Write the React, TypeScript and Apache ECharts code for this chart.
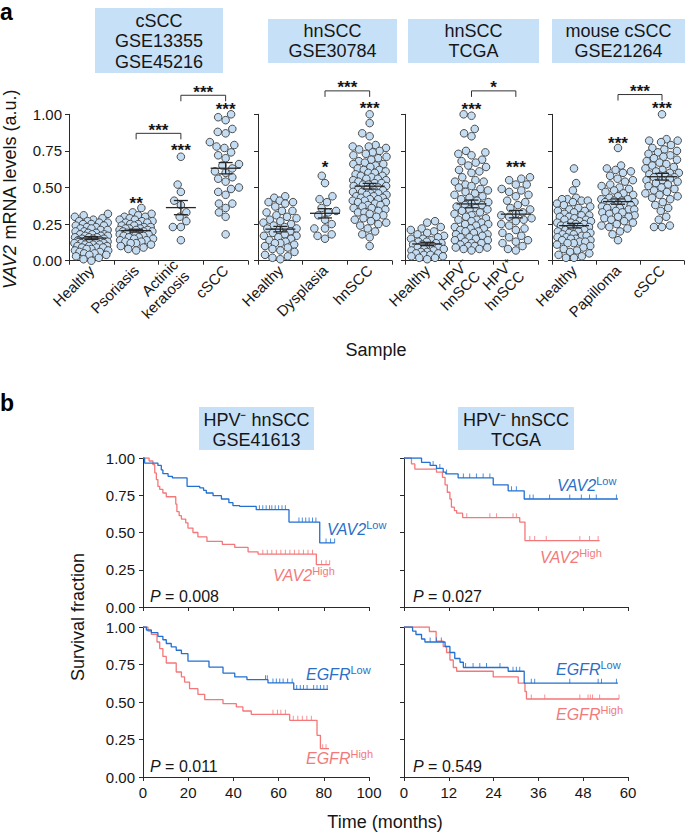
import React, { useEffect, useRef } from 'react';
import * as echarts from 'echarts';

// ---------------- Panel a: categories ----------------
const catsCSCC = ['Healthy', 'Psoriasis', 'Actinic\nkeratosis', 'cSCC'];
const catsHN = ['Healthy', 'Dysplasia', 'hnSCC'];
const catsTCGA = ['Healthy', 'HPV⁻\nhnSCC', 'HPV⁺\nhnSCC'];
const catsMouse = ['Healthy', 'Papilloma', 'cSCC'];

// ---------------- Panel a: values (VAV2 mRNA, a.u.) ----------------
const cSCCHealthy = [0.32, 0.31, 0.30, 0.29, 0.28, 0.27, 0.27, 0.26, 0.26, 0.25, 0.25, 0.24, 0.24, 0.23, 0.23, 0.22, 0.22, 0.21, 0.21, 0.20, 0.20, 0.19, 0.19, 0.18, 0.18, 0.18, 0.17, 0.17, 0.17, 0.16, 0.16, 0.16, 0.15, 0.15, 0.15, 0.14, 0.14, 0.14, 0.13, 0.13, 0.13, 0.12, 0.12, 0.12, 0.11, 0.11, 0.11, 0.10, 0.10, 0.10, 0.09, 0.09, 0.09, 0.08, 0.08, 0.07, 0.07, 0.06, 0.06, 0.05, 0.05, 0.04, 0.04, 0.03, 0.02, 0.01, 0.00];
const cSCCPsoriasis = [0.36, 0.33, 0.32, 0.31, 0.30, 0.30, 0.29, 0.28, 0.28, 0.27, 0.27, 0.26, 0.26, 0.25, 0.25, 0.24, 0.24, 0.23, 0.23, 0.22, 0.22, 0.22, 0.21, 0.21, 0.21, 0.20, 0.20, 0.20, 0.19, 0.19, 0.19, 0.18, 0.18, 0.18, 0.17, 0.17, 0.16, 0.16, 0.15, 0.15, 0.14, 0.14, 0.13, 0.13, 0.12, 0.12, 0.11, 0.10, 0.09, 0.08, 0.07];
const cSCCActinic = [0.71, 0.52, 0.47, 0.41, 0.38, 0.33, 0.30, 0.27, 0.23, 0.23, 0.14];
const cSCCTumour = [1.00, 0.98, 0.96, 0.90, 0.88, 0.87, 0.81, 0.79, 0.78, 0.77, 0.74, 0.72, 0.70, 0.66, 0.65, 0.63, 0.61, 0.60, 0.57, 0.56, 0.54, 0.50, 0.49, 0.47, 0.45, 0.39, 0.39, 0.36, 0.33, 0.30, 0.18];

const hnHealthy = [0.44, 0.43, 0.41, 0.40, 0.40, 0.39, 0.37, 0.34, 0.34, 0.33, 0.31, 0.30, 0.29, 0.28, 0.27, 0.26, 0.25, 0.24, 0.23, 0.22, 0.22, 0.21, 0.20, 0.19, 0.18, 0.17, 0.17, 0.16, 0.15, 0.14, 0.13, 0.12, 0.12, 0.11, 0.10, 0.09, 0.08, 0.07, 0.06, 0.04, 0.03, 0.02, 0.01];
const hnDysplasia = [0.58, 0.53, 0.44, 0.42, 0.40, 0.36, 0.34, 0.33, 0.31, 0.28, 0.25, 0.22, 0.22, 0.18, 0.17, 0.15];
const hnTumour = [1.00, 0.94, 0.87, 0.85, 0.79, 0.78, 0.78, 0.77, 0.76, 0.75, 0.74, 0.73, 0.72, 0.71, 0.70, 0.69, 0.68, 0.67, 0.66, 0.66, 0.65, 0.64, 0.63, 0.62, 0.62, 0.61, 0.60, 0.60, 0.59, 0.58, 0.58, 0.57, 0.56, 0.56, 0.55, 0.55, 0.54, 0.53, 0.53, 0.52, 0.52, 0.51, 0.51, 0.50, 0.50, 0.49, 0.49, 0.48, 0.48, 0.47, 0.47, 0.46, 0.46, 0.45, 0.45, 0.44, 0.44, 0.43, 0.43, 0.42, 0.42, 0.41, 0.41, 0.40, 0.40, 0.39, 0.38, 0.38, 0.37, 0.36, 0.36, 0.35, 0.34, 0.33, 0.33, 0.32, 0.31, 0.30, 0.29, 0.28, 0.27, 0.26, 0.25, 0.24, 0.22, 0.20, 0.18, 0.16, 0.10];

const tcgaHealthy = [0.27, 0.26, 0.23, 0.22, 0.21, 0.20, 0.19, 0.18, 0.17, 0.16, 0.15, 0.15, 0.14, 0.13, 0.13, 0.12, 0.12, 0.11, 0.11, 0.10, 0.10, 0.09, 0.09, 0.08, 0.08, 0.07, 0.07, 0.06, 0.06, 0.05, 0.05, 0.04, 0.04, 0.03, 0.03, 0.02, 0.02, 0.01];
const tcgaHPVneg = [1.00, 0.99, 0.90, 0.87, 0.85, 0.75, 0.74, 0.73, 0.72, 0.69, 0.68, 0.67, 0.65, 0.64, 0.62, 0.61, 0.60, 0.57, 0.55, 0.54, 0.54, 0.52, 0.51, 0.50, 0.49, 0.48, 0.47, 0.46, 0.45, 0.44, 0.43, 0.42, 0.41, 0.40, 0.39, 0.38, 0.38, 0.37, 0.36, 0.35, 0.35, 0.34, 0.33, 0.32, 0.31, 0.30, 0.29, 0.28, 0.28, 0.27, 0.26, 0.25, 0.25, 0.24, 0.23, 0.22, 0.22, 0.21, 0.20, 0.20, 0.19, 0.18, 0.18, 0.17, 0.16, 0.16, 0.15, 0.14, 0.14, 0.13, 0.12, 0.12, 0.11, 0.10, 0.10, 0.09, 0.09, 0.08, 0.08, 0.07];
const tcgaHPVpos = [0.57, 0.56, 0.55, 0.52, 0.52, 0.49, 0.48, 0.47, 0.45, 0.44, 0.41, 0.40, 0.38, 0.36, 0.35, 0.33, 0.32, 0.31, 0.30, 0.29, 0.28, 0.27, 0.25, 0.24, 0.22, 0.21, 0.19, 0.17, 0.16, 0.14, 0.13, 0.12, 0.10, 0.08, 0.07];

const mouseHealthy = [0.63, 0.53, 0.48, 0.43, 0.42, 0.42, 0.41, 0.41, 0.40, 0.39, 0.38, 0.37, 0.36, 0.35, 0.34, 0.34, 0.33, 0.32, 0.31, 0.31, 0.30, 0.30, 0.29, 0.28, 0.28, 0.27, 0.27, 0.26, 0.26, 0.25, 0.25, 0.24, 0.24, 0.23, 0.23, 0.22, 0.22, 0.21, 0.21, 0.20, 0.20, 0.19, 0.19, 0.18, 0.18, 0.17, 0.17, 0.16, 0.16, 0.15, 0.15, 0.14, 0.14, 0.13, 0.13, 0.12, 0.12, 0.11, 0.10, 0.09, 0.08, 0.07, 0.06, 0.05, 0.04, 0.03, 0.02, 0.02];
const mousePapilloma = [0.77, 0.65, 0.63, 0.62, 0.61, 0.60, 0.58, 0.56, 0.55, 0.54, 0.52, 0.51, 0.50, 0.49, 0.48, 0.47, 0.46, 0.45, 0.44, 0.43, 0.42, 0.42, 0.41, 0.41, 0.40, 0.40, 0.39, 0.39, 0.38, 0.38, 0.37, 0.37, 0.36, 0.36, 0.35, 0.35, 0.34, 0.33, 0.33, 0.32, 0.31, 0.30, 0.30, 0.29, 0.28, 0.27, 0.26, 0.25, 0.24, 0.23, 0.22, 0.20, 0.18, 0.14];
const mouseTumour = [1.00, 0.83, 0.82, 0.82, 0.81, 0.79, 0.77, 0.76, 0.75, 0.74, 0.73, 0.72, 0.71, 0.70, 0.69, 0.68, 0.67, 0.66, 0.65, 0.64, 0.63, 0.62, 0.61, 0.60, 0.60, 0.59, 0.58, 0.58, 0.57, 0.57, 0.56, 0.55, 0.55, 0.54, 0.53, 0.52, 0.51, 0.50, 0.49, 0.48, 0.47, 0.46, 0.45, 0.44, 0.43, 0.42, 0.40, 0.38, 0.36, 0.34, 0.30, 0.28, 0.24, 0.23, 0.23];

// ---------------- Panel a: significance annotations ----------------
const starCatsCSCC = [1, 2, 3];
const starLevelsCSCC = [0.415, 0.78, 1.06];
const starTextCSCC = ['**', '***', '***'];
const brFromCSCC = [1, 2];
const brToCSCC = [2, 3];
const brLevelCSCC = [0.87, 1.13];
const brTextCSCC = ['***', '***'];

const starCatsHN = [1, 2];
const starLevelsHN = [0.665, 1.065];
const starTextHN = ['*', '***'];
const brFromHN = [1];
const brToHN = [2];
const brLevelHN = [1.16];
const brTextHN = ['***'];

const starCatsTCGA = [1, 2];
const starLevelsTCGA = [1.06, 0.665];
const starTextTCGA = ['***', '***'];
const brFromTCGA = [1];
const brToTCGA = [2];
const brLevelTCGA = [1.16];
const brTextTCGA = ['*'];

const starCatsMouse = [1, 2];
const starLevelsMouse = [0.83, 1.065];
const starTextMouse = ['***', '***'];
const brFromMouse = [1];
const brToMouse = [2];
const brLevelMouse = [1.135];
const brTextMouse = ['***'];

// ---------------- Panel b: Kaplan–Meier curves (drop times, survival after drop) ----------------
const vavGseLowT = [0.7, 6.6, 8.1, 8.8, 11.1, 13.0, 19.5, 25.1, 26.8, 28.0, 31.0, 34.7, 38.0, 39.8, 42.8, 50.1, 64.6, 78.2];
const vavGseLowS = [0.966, 0.95, 0.92, 0.895, 0.877, 0.866, 0.81, 0.80, 0.783, 0.765, 0.747, 0.725, 0.70, 0.68, 0.675, 0.653, 0.57, 0.43];
const vavGseLowEnd = 84.8;
const vavGseLowCens = [51.5, 53, 54.5, 56, 57, 58.5, 60, 61.5, 63, 69, 70.5, 72, 73.5, 75, 76.5, 81, 83, 84.8];

const vavGseHighT = [2.7, 4.4, 5.2, 5.9, 6.6, 7.4, 8.8, 10.3, 14.5, 15.0, 16.0, 17.0, 18.9, 19.9, 22.1, 24.3, 28.3, 35.1, 40.6, 46.5, 50.9, 76.7];
const vavGseHighS = [0.98, 0.955, 0.90, 0.855, 0.81, 0.79, 0.765, 0.74, 0.69, 0.64, 0.613, 0.59, 0.565, 0.53, 0.50, 0.47, 0.44, 0.42, 0.40, 0.37, 0.355, 0.284];
const vavGseHighEnd = 82.6;
const vavGseHighCens = [53, 55, 57, 59, 61, 63, 65, 67, 69, 71, 73, 75, 79, 81, 82.6];

const vavTcgaLowT = [4.7, 7.0, 8.7, 10.5, 11.2, 14.5, 23.9, 27.9, 32.2];
const vavTcgaLowS = [0.97, 0.95, 0.93, 0.905, 0.893, 0.866, 0.82, 0.78, 0.725];
const vavTcgaLowEnd = 57.3;
const vavTcgaLowCens = [7.8, 9.6, 11.4, 15.9, 17.6, 19.4, 21.2, 23.0, 28.8, 30.1, 33.7, 34.6, 39.0, 44.4, 47.5, 49.7, 51.5, 56.9];

const vavTcgaHighT = [2.0, 2.9, 8.7, 10.3, 11.0, 11.6, 12.3, 12.7, 13.5, 14.1, 15.7, 31.0, 32.4];
const vavTcgaHighS = [0.96, 0.926, 0.905, 0.87, 0.82, 0.77, 0.725, 0.67, 0.647, 0.63, 0.60, 0.57, 0.446];
const vavTcgaHighEnd = 52.4;
const vavTcgaHighCens = [16.8, 23.0, 24.8, 29.2, 30.1, 33.7, 35.0, 38.1, 47.1, 49.7, 52.0];

const egfrGseLowT = [1.5, 3.7, 6.6, 8.8, 10.3, 12.5, 14.7, 17.0, 19.9, 29.2, 35.4, 40.6, 46.0, 55.3, 66.7];
const egfrGseLowS = [0.98, 0.962, 0.938, 0.915, 0.89, 0.867, 0.845, 0.822, 0.773, 0.733, 0.693, 0.667, 0.649, 0.627, 0.584];
const egfrGseLowEnd = 81.9;
const egfrGseLowCens = [54.2, 55, 57.5, 59, 60.5, 62, 64, 66, 68, 69.6, 71, 72.6, 75.5, 77, 78.5, 80, 81.5];

const egfrGseHighT = [2.2, 3.7, 6.2, 7.4, 8.8, 10.3, 14.7, 17.0, 18.4, 20.6, 24.3, 27.3, 35.4, 41.3, 44.2, 47.9, 64.9, 77.0, 78.5];
const egfrGseHighS = [0.973, 0.951, 0.90, 0.856, 0.804, 0.76, 0.70, 0.667, 0.633, 0.589, 0.551, 0.516, 0.489, 0.467, 0.44, 0.418, 0.378, 0.278, 0.189];
const egfrGseHighEnd = 82.3;
const egfrGseHighCens = [57.5, 59.5, 61, 63, 66.5, 68.5, 70.5, 72.5, 74.5, 79.5, 81];

const egfrTcgaLowT = [2.3, 3.2, 4.7, 5.6, 11.0, 12.3, 13.6, 15.0, 15.9, 27.9, 32.2];
const egfrTcgaLowS = [0.973, 0.95, 0.92, 0.90, 0.87, 0.83, 0.79, 0.765, 0.73, 0.705, 0.626];
const egfrTcgaLowEnd = 57.3;
const egfrTcgaLowCens = [7.0, 8.7, 10.0, 16.5, 18.5, 20.3, 22.1, 25.7, 29.2, 30.1, 31.0, 34.1, 35.0, 44.4, 52.0, 52.9, 56.9];

const egfrTcgaHighT = [6.8, 8.6, 10.5, 11.4, 12.3, 13.2, 14.1, 23.9, 30.6, 32.4, 32.8];
const egfrTcgaHighS = [0.97, 0.906, 0.87, 0.83, 0.78, 0.73, 0.705, 0.667, 0.626, 0.57, 0.52];
const egfrTcgaHighEnd = 57.6;
const egfrTcgaHighCens = [34.1, 37.7, 47.1, 49.3, 49.9, 50.5, 52.4, 57.6];

const yTicks = [0, 0.25, 0.5, 0.75, 1];

// ---------------- styles ----------------
const FONT = '"Liberation Sans", Arial, Helvetica, sans-serif';
const TXT = '#161616';
const AX = '#2a2a2a';
const BOX = '#c6e0f8';
const DOT_FILL = '#c4ddf3';
const DOT_STROKE = '#3c3c3c';
const BLUE = '#2170d2';
const RED = '#f47779';
const BLUE_T = '#2a6fc6';
const RED_T = '#f27a7b';

const A_TOP = 114.3;
const A_H = 146.4;
const gridsA = [
  { left: 69, top: A_TOP, width: 179, height: A_H },
  { left: 258, top: A_TOP, width: 134, height: A_H },
  { left: 405, top: A_TOP, width: 133, height: A_H },
  { left: 552, top: A_TOP, width: 132, height: A_H },
];
const gridsB = [
  { left: 143, top: 458, width: 226, height: 149 },
  { left: 404, top: 458, width: 224, height: 149 },
  { left: 143, top: 627, width: 226, height: 150 },
  { left: 404, top: 627, width: 224, height: 150 },
];

const DOT_D = 8;

function beeswarm(values: number[], pxPerUnit: number, d: number, maxHalf: number): number[] {
  const order = values.map((_, i) => i).sort((a, b) => values[a] - values[b]);
  const placed: { x: number; y: number }[] = [];
  const offs = new Array(values.length).fill(0);
  for (const i of order) {
    const y = values[i] * pxPerUnit;
    let minD = d;
    let found: number | null = null;
    let guard = 0;
    while (found === null && guard < 40) {
      guard++;
      const iv: [number, number][] = [];
      for (const p of placed) {
        const dy = Math.abs(p.y - y);
        if (dy < minD) {
          const w = Math.sqrt(minD * minD - dy * dy);
          iv.push([p.x - w, p.x + w]);
        }
      }
      const cands = [0];
      for (const [a, b] of iv) cands.push(a, b);
      cands.sort((a, b) => Math.abs(a) - Math.abs(b) || a - b);
      for (const c of cands) {
        if (Math.abs(c) > maxHalf + 1e-6) continue;
        let ok = true;
        for (const [a, b] of iv) {
          if (c > a + 1e-6 && c < b - 1e-6) { ok = false; break; }
        }
        if (ok) { found = c; break; }
      }
      minD *= 0.88;
    }
    const f = found === null ? 0 : found;
    offs[i] = f;
    placed.push({ x: f, y });
  }
  return offs;
}

function meanSem(arr: number[]) {
  const n = arr.length;
  const m = arr.reduce((a, b) => a + b, 0) / n;
  const sd = Math.sqrt(arr.reduce((a, b) => a + (b - m) * (b - m), 0) / (n - 1));
  return [m, sd / Math.sqrt(n)];
}

function survAt(T: number[], S: number[], t: number) {
  let s = 1;
  for (let i = 0; i < T.length; i++) if (T[i] <= t) s = S[i];
  return s;
}

function kmPoints(T: number[], S: number[], end: number) {
  const pts: number[][] = [[0, 1]];
  T.forEach((t, i) => pts.push([t, S[i]]));
  pts.push([end, S[S.length - 1]]);
  return pts;
}

function buildOption() {
  const panelsA = [
    { cats: catsCSCC, groups: [cSCCHealthy, cSCCPsoriasis, cSCCActinic, cSCCTumour], sc: starCatsCSCC, sl: starLevelsCSCC, st: starTextCSCC, bf: brFromCSCC, bt: brToCSCC, bl: brLevelCSCC, bx: brTextCSCC },
    { cats: catsHN, groups: [hnHealthy, hnDysplasia, hnTumour], sc: starCatsHN, sl: starLevelsHN, st: starTextHN, bf: brFromHN, bt: brToHN, bl: brLevelHN, bx: brTextHN },
    { cats: catsTCGA, groups: [tcgaHealthy, tcgaHPVneg, tcgaHPVpos], sc: starCatsTCGA, sl: starLevelsTCGA, st: starTextTCGA, bf: brFromTCGA, bt: brToTCGA, bl: brLevelTCGA, bx: brTextTCGA },
    { cats: catsMouse, groups: [mouseHealthy, mousePapilloma, mouseTumour], sc: starCatsMouse, sl: starLevelsMouse, st: starTextMouse, bf: brFromMouse, bt: brToMouse, bl: brLevelMouse, bx: brTextMouse },
  ];

  const grid: any[] = [...gridsA, ...gridsB];
  const xAxis: any[] = [];
  const yAxis: any[] = [];
  const series: any[] = [];

  panelsA.forEach((p, k) => {
    xAxis.push({
      type: 'category', gridIndex: k, data: p.cats, boundaryGap: true,
      axisLine: { lineStyle: { color: AX, width: 1 } },
      axisTick: { show: true, length: 4, lineStyle: { color: AX } },
      axisLabel: { rotate: 45, fontSize: 15, color: TXT, margin: 7, interval: 0, fontFamily: FONT, lineHeight: 16 },
      splitLine: { show: false },
    });
    yAxis.push({
      type: 'value', gridIndex: k, min: 0, max: 1, interval: 0.25,
      axisLine: { show: true, lineStyle: { color: AX, width: 1 } },
      axisTick: { show: true, length: 4, lineStyle: { color: AX } },
      axisLabel: { show: k === 0, fontSize: 15, color: TXT, margin: 7, fontFamily: FONT, formatter: (v: number) => v.toFixed(2) },
      splitLine: { show: false },
    });

    const dots: number[][] = [];
    const means: number[][] = [];
    p.groups.forEach((vals, g) => {
      const offs = beeswarm(vals, A_H, DOT_D, 17);
      vals.forEach((v, i) => dots.push([g, v, offs[i]]));
      const [m, se] = meanSem(vals);
      means.push([g, m, se]);
    });

    series.push({
      type: 'custom', xAxisIndex: k, yAxisIndex: k, data: dots, encode: { x: 0, y: 1 }, z: 2, silent: true,
      renderItem: (_params: any, api: any) => {
        const c = api.coord([api.value(0), api.value(1)]);
        return { type: 'circle', shape: { cx: c[0] + api.value(2), cy: c[1], r: 3.8 }, style: { fill: DOT_FILL, stroke: DOT_STROKE, lineWidth: 0.9 } };
      },
    });
    series.push({
      type: 'custom', xAxisIndex: k, yAxisIndex: k, data: means, encode: { x: 0, y: 1 }, z: 3, silent: true,
      renderItem: (_params: any, api: any) => {
        const c = api.coord([api.value(0), api.value(1)]);
        const hi = api.coord([api.value(0), api.value(1) + api.value(2)]);
        const lo = api.coord([api.value(0), api.value(1) - api.value(2)]);
        const st = { stroke: '#262626', lineWidth: 1.3 };
        return {
          type: 'group', children: [
            { type: 'line', shape: { x1: c[0] - 15, y1: c[1], x2: c[0] + 15, y2: c[1] }, style: st },
            { type: 'line', shape: { x1: c[0], y1: hi[1], x2: c[0], y2: lo[1] }, style: st },
            { type: 'line', shape: { x1: c[0] - 7, y1: hi[1], x2: c[0] + 7, y2: hi[1] }, style: st },
            { type: 'line', shape: { x1: c[0] - 7, y1: lo[1], x2: c[0] + 7, y2: lo[1] }, style: st },
          ],
        };
      },
    });
    const starTexts = p.st;
    series.push({
      type: 'custom', xAxisIndex: k, yAxisIndex: k, data: p.sc.map((c, i) => [c, p.sl[i]]), encode: { x: 0, y: 1 }, z: 4, silent: true,
      renderItem: (params: any, api: any) => {
        const c = api.coord([api.value(0), api.value(1)]);
        const t = starTexts[params.dataIndex];
        return {
          type: 'text', x: c[0], y: c[1] + 4,
          style: { text: t, fontSize: 17, fontWeight: 'bold', fontFamily: FONT, fill: TXT, textAlign: 'center', textVerticalAlign: 'middle', align: 'center', verticalAlign: 'middle' },
        };
      },
    });
    const brTexts = p.bx;
    series.push({
      type: 'custom', xAxisIndex: k, yAxisIndex: k, data: p.bf.map((f, i) => [f, p.bl[i], p.bt[i]]), encode: { x: 0, y: 1 }, z: 4, silent: true,
      renderItem: (params: any, api: any) => {
        const a = api.coord([api.value(0), api.value(1)]);
        const b = api.coord([api.value(2), api.value(1)]);
        const t = brTexts[params.dataIndex];
        return {
          type: 'group', children: [
            { type: 'polyline', shape: { points: [[a[0], a[1] + 6], [a[0], a[1]], [b[0], b[1]], [b[0], b[1] + 6]] }, style: { stroke: '#333', fill: null, lineWidth: 1 } },
            { type: 'text', x: (a[0] + b[0]) / 2, y: a[1] - 3,
              style: { text: t, fontSize: 17, fontWeight: 'bold', fontFamily: FONT, fill: TXT, textAlign: 'center', textVerticalAlign: 'middle', align: 'center', verticalAlign: 'middle' } },
          ],
        };
      },
    });
  });

  const km = [
    { max: 100, step: 20, lowT: vavGseLowT, lowS: vavGseLowS, lowE: vavGseLowEnd, lowC: vavGseLowCens, highT: vavGseHighT, highS: vavGseHighS, highE: vavGseHighEnd, highC: vavGseHighCens },
    { max: 60, step: 12, lowT: vavTcgaLowT, lowS: vavTcgaLowS, lowE: vavTcgaLowEnd, lowC: vavTcgaLowCens, highT: vavTcgaHighT, highS: vavTcgaHighS, highE: vavTcgaHighEnd, highC: vavTcgaHighCens },
    { max: 100, step: 20, lowT: egfrGseLowT, lowS: egfrGseLowS, lowE: egfrGseLowEnd, lowC: egfrGseLowCens, highT: egfrGseHighT, highS: egfrGseHighS, highE: egfrGseHighEnd, highC: egfrGseHighCens },
    { max: 60, step: 12, lowT: egfrTcgaLowT, lowS: egfrTcgaLowS, lowE: egfrTcgaLowEnd, lowC: egfrTcgaLowCens, highT: egfrTcgaHighT, highS: egfrTcgaHighS, highE: egfrTcgaHighEnd, highC: egfrTcgaHighCens },
  ];

  km.forEach((p, j) => {
    const gi = 4 + j;
    xAxis.push({
      type: 'value', gridIndex: gi, min: 0, max: p.max, interval: p.step,
      axisLine: { lineStyle: { color: AX, width: 1 } },
      axisTick: { show: true, length: 4, lineStyle: { color: AX } },
      axisLabel: { show: j >= 2, fontSize: 15, color: TXT, margin: 8, fontFamily: FONT },
      splitLine: { show: false },
    });
    yAxis.push({
      type: 'value', gridIndex: gi, min: yTicks[0], max: yTicks[yTicks.length - 1], interval: 0.25,
      axisLine: { show: true, lineStyle: { color: AX, width: 1 } },
      axisTick: { show: true, length: 4, lineStyle: { color: AX } },
      axisLabel: { show: j % 2 === 0, fontSize: 15, color: TXT, margin: 8, fontFamily: FONT, formatter: (v: number) => v.toFixed(2) },
      splitLine: { show: false },
    });
    const curves = [
      { T: p.highT, S: p.highS, E: p.highE, C: p.highC, col: RED },
      { T: p.lowT, S: p.lowS, E: p.lowE, C: p.lowC, col: BLUE },
    ];
    curves.forEach((cv) => {
      series.push({
        type: 'line', xAxisIndex: gi, yAxisIndex: gi, step: 'end', showSymbol: false, symbol: 'none', silent: true,
        data: kmPoints(cv.T, cv.S, cv.E), lineStyle: { color: cv.col, width: 1.3 }, z: 3,
      });
      series.push({
        type: 'scatter', xAxisIndex: gi, yAxisIndex: gi, silent: true,
        data: cv.C.map((t) => [t, survAt(cv.T, cv.S, t)]),
        symbol: 'rect', symbolSize: [1, 4.5], symbolOffset: [0, -2.2],
        itemStyle: { color: cv.col }, z: 4,
      });
    });
  });

  const boxText = (x: number, y: number, w: number, h: number, text: string, cy: number) => [
    { type: 'rect', shape: { x, y, width: w, height: h }, style: { fill: BOX } },
    { type: 'text', x: x + w / 2, y: cy, style: { text, fontSize: 18, lineHeight: 20.5, fontFamily: FONT, fill: TXT, align: 'center', verticalAlign: 'middle', textAlign: 'center', textVerticalAlign: 'middle' } },
  ];
  const supLabel = (x: number, y: number, main: string, sup: string, color: string) => ({
    type: 'text', x, y,
    style: {
      text: `{m|${main}}{s|${sup}}`,
      rich: {
        m: { fontSize: 16, fontStyle: 'italic', fontFamily: FONT, fill: color, lineHeight: 20 },
        s: { fontSize: 11, fontFamily: FONT, fill: color, verticalAlign: 'top' },
      },
      fill: color, align: 'left', verticalAlign: 'middle', textAlign: 'left', textVerticalAlign: 'middle',
    },
  });
  const pLabel = (x: number, y: number, val: string) => ({
    type: 'text', x, y,
    style: {
      text: `{i|P} = ${val}`,
      rich: { i: { fontSize: 16, fontStyle: 'italic', fontFamily: FONT, fill: TXT } },
      fontSize: 16, fontFamily: FONT, fill: TXT, align: 'left', verticalAlign: 'middle', textAlign: 'left', textVerticalAlign: 'middle',
    },
  });
  const plain = (x: number, y: number, text: string, size: number) => ({
    type: 'text', x, y,
    style: { text, fontSize: size, fontFamily: FONT, fill: TXT, align: 'center', verticalAlign: 'middle', textAlign: 'center', textVerticalAlign: 'middle' },
  });

  const graphic: any[] = [
    { type: 'text', x: 0, y: 0, style: { text: 'a', fontSize: 23, fontWeight: 'bold', fontFamily: FONT, fill: '#000', align: 'left', verticalAlign: 'top', textAlign: 'left', textVerticalAlign: 'top' } },
    { type: 'text', x: 0, y: 391, style: { text: 'b', fontSize: 23, fontWeight: 'bold', fontFamily: FONT, fill: '#000', align: 'left', verticalAlign: 'top', textAlign: 'left', textVerticalAlign: 'top' } },
    ...boxText(95, 8, 128, 65, 'cSCC\nGSE13355\nGSE45216', 41),
    ...boxText(268, 19, 129, 44, 'hnSCC\nGSE30784', 41.2),
    ...boxText(408, 19, 131, 44, 'hnSCC\nTCGA', 41.2),
    ...boxText(552, 19, 133, 44, 'mouse cSCC\nGSE21264', 41.2),
    ...boxText(199, 407, 115, 43, 'HPV⁻ hnSCC\nGSE41613', 430),
    ...boxText(458, 407, 116, 43, 'HPV⁻ hnSCC\nTCGA', 430),
    {
      type: 'text', x: 10, y: 189, rotation: Math.PI / 2,
      style: {
        text: '{i|VAV2} mRNA levels (a.u.)',
        rich: { i: { fontStyle: 'italic', fontSize: 18, fontFamily: FONT, fill: TXT } },
        fontSize: 18, fontFamily: FONT, fill: TXT, align: 'center', verticalAlign: 'middle', textAlign: 'center', textVerticalAlign: 'middle',
      },
    },
    plain(376, 350, 'Sample', 18),
    { type: 'text', x: 78, y: 617, rotation: Math.PI / 2, style: { text: 'Survival fraction', fontSize: 18, fontFamily: FONT, fill: TXT, align: 'center', verticalAlign: 'middle', textAlign: 'center', textVerticalAlign: 'middle' } },
    plain(385, 822, 'Time (months)', 18),
    supLabel(327, 529, 'VAV2', 'Low', BLUE_T),
    supLabel(273, 575, 'VAV2', 'High', RED_T),
    supLabel(557, 485, 'VAV2', 'Low', BLUE_T),
    supLabel(540, 557, 'VAV2', 'High', RED_T),
    supLabel(306, 674, 'EGFR', 'Low', BLUE_T),
    supLabel(306, 758, 'EGFR', 'High', RED_T),
    supLabel(556, 669, 'EGFR', 'Low', BLUE_T),
    supLabel(556, 714, 'EGFR', 'High', RED_T),
    pLabel(150, 596, '0.008'),
    pLabel(413, 596, '0.027'),
    pLabel(150, 766, '0.011'),
    pLabel(413, 766, '0.549'),
  ];

  return {
    animation: false,
    backgroundColor: '#ffffff',
    textStyle: { fontFamily: FONT },
    grid, xAxis, yAxis, series, graphic,
  };
}

export default function App() {
  const ref = useRef<HTMLDivElement>(null);
  useEffect(() => {
    if (!ref.current) return;
    const chart = echarts.init(ref.current, undefined, { renderer: 'svg' });
    chart.setOption(buildOption() as any);
    return () => chart.dispose();
  }, []);
  return <div ref={ref} style={{ position: 'absolute', left: 0, top: 0, width: 685, height: 833 }} />;
}
